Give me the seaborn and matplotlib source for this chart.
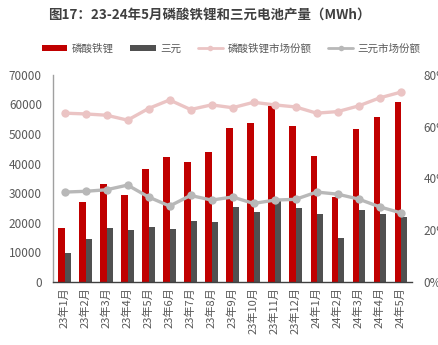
import matplotlib
matplotlib.use("Agg")
import matplotlib.pyplot as plt
import seaborn as sns
import pandas as pd
import numpy as np
from matplotlib.patches import Patch
from matplotlib.lines import Line2D
from matplotlib.ticker import FuncFormatter

months = ["23年1月", "23年2月", "23年3月", "23年4月", "23年5月", "23年6月", "23年7月",
          "23年8月", "23年9月", "23年10月", "23年11月", "23年12月", "24年1月", "24年2月",
          "24年3月", "24年4月", "24年5月"]
lfp = [18300, 27000, 33000, 29400, 38000, 42300, 40600, 44000, 52000, 53800, 59500,
       52700, 42500, 28800, 51600, 55600, 60700]
ncm = [9800, 14500, 18200, 17600, 18600, 17800, 20500, 20300, 25400, 23600, 27300,
       25100, 22900, 14900, 24300, 22900, 22000]
lfp_share = [65.2, 64.9, 64.4, 62.5, 67.0, 70.3, 66.6, 68.4, 67.3, 69.4, 68.4, 67.6,
             65.2, 65.8, 68.0, 71.1, 73.3]
ncm_share = [34.7, 35.0, 35.6, 37.4, 32.8, 29.3, 33.4, 31.6, 32.8, 30.3, 31.6, 31.9,
             34.7, 33.9, 32.0, 29.0, 26.7]
series_names = ["磷酸铁锂", "三元", "磷酸铁锂市场份额", "三元市场份额"]
title = "图17：23-24年5月磷酸铁锂和三元电池产量（MWh）"

RED = "#C00000"
DARK = "#505050"
PINK = "#EBC4C4"
GRAY = "#B8B8B8"
TXT = "#595959"

sns.set_theme(style="white")
plt.rcParams["font.family"] = ["Noto Sans CJK SC", "DejaVu Sans"]

bars = pd.DataFrame({
    "month": months * 2,
    "value": lfp + ncm,
    "series": [series_names[0]] * len(months) + [series_names[1]] * len(months),
})
shares = pd.DataFrame({
    "x": list(range(len(months))) * 2,
    "share": [v / 100 for v in lfp_share] + [v / 100 for v in ncm_share],
    "series": [series_names[2]] * len(months) + [series_names[3]] * len(months),
})

fig = plt.figure(figsize=(4.38, 3.45), dpi=100)
ax = fig.add_axes([0.121, 0.183, 0.820, 0.600])
sns.barplot(data=bars, x="month", y="value", hue="series", order=months,
            palette=[RED, DARK], width=0.58, gap=0, saturation=1, ax=ax,
            legend=False, edgecolor="none")
ax.set_ylim(0, 70000)
ax.set_yticks(range(0, 70001, 10000))
ax.set_xlim(-0.55, len(months) - 0.45)
ax.set_xlabel("")
ax.set_ylabel("")
ax.tick_params(axis="y", length=0, pad=8, labelsize=8.5, labelcolor=TXT)
ax.tick_params(axis="x", length=0, pad=4, labelsize=8, labelcolor=TXT, rotation=90)
for s in ["top", "right"]:
    ax.spines[s].set_visible(False)
ax.spines["left"].set_color("#A0A0A0")
ax.spines["bottom"].set_color("#404040")
ax.spines["left"].set_linewidth(1.0)
ax.spines["bottom"].set_linewidth(1.0)

ax2 = ax.twinx()
sns.lineplot(data=shares, x="x", y="share", hue="series", palette=[PINK, GRAY],
             marker="o", markersize=6, markeredgewidth=0, linewidth=2.4,
             ax=ax2, legend=False)
ax2.set_ylim(0, 0.8)
ax2.set_yticks([0, 0.2, 0.4, 0.6, 0.8])
ax2.yaxis.set_major_formatter(FuncFormatter(lambda v, p: f"{v*100:.0f}%"))
ax2.set_ylabel("")
ax2.tick_params(axis="y", length=0, pad=8, labelsize=8.5, labelcolor=TXT)
for s in ["top", "right", "left", "bottom"]:
    ax2.spines[s].set_visible(False)
ax2.set_xlim(ax.get_xlim())

fig.text(0.11, 0.958, title, fontsize=9.7, fontweight="bold", color="#404040",
         va="center", ha="left")

handles = [
    Patch(facecolor=RED, edgecolor="none"),
    Patch(facecolor=DARK, edgecolor="none"),
    Line2D([], [], color=PINK, linewidth=2, marker="o", markersize=4, markeredgewidth=0),
    Line2D([], [], color=GRAY, linewidth=2, marker="o", markersize=4, markeredgewidth=0),
]
fig.legend(handles, series_names, loc="center", bbox_to_anchor=(0.528, 0.86), ncol=4,
           frameon=False, fontsize=7.6, labelcolor=TXT, handlelength=2.4,
           handleheight=0.5, columnspacing=1.6, handletextpad=0.4)

fig.savefig("out.png", dpi=100)
